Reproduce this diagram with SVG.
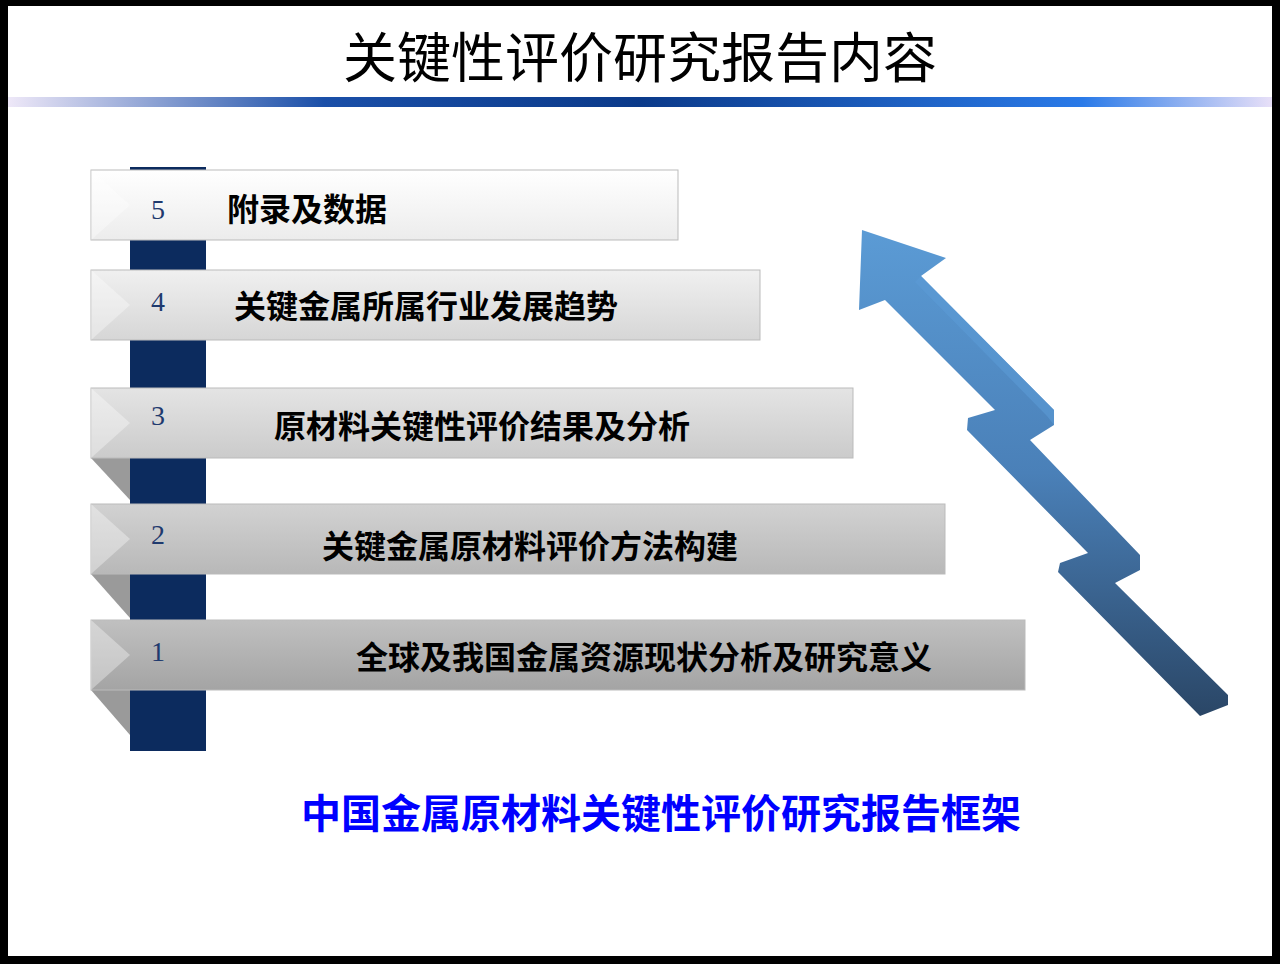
<svg xmlns="http://www.w3.org/2000/svg" width="1280" height="964" viewBox="0 0 1280 964">
<defs>
<linearGradient id="line" x1="0" y1="0" x2="1" y2="0">
<stop offset="0" stop-color="#eee8f8"/><stop offset="0.25" stop-color="#1a4fa8"/><stop offset="0.5" stop-color="#0b3a8a"/><stop offset="0.85" stop-color="#2a7ae8"/><stop offset="1" stop-color="#e8e0f8"/>
</linearGradient>
<linearGradient id="b5" x1="0" y1="0" x2="0" y2="1"><stop offset="0" stop-color="#ffffff"/><stop offset="1" stop-color="#ececec"/></linearGradient>
<linearGradient id="b4" x1="0" y1="0" x2="0" y2="1"><stop offset="0" stop-color="#f0f0f0"/><stop offset="1" stop-color="#d6d6d6"/></linearGradient>
<linearGradient id="b3" x1="0" y1="0" x2="0" y2="1"><stop offset="0" stop-color="#e4e4e4"/><stop offset="1" stop-color="#cbcbcb"/></linearGradient>
<linearGradient id="b2" x1="0" y1="0" x2="0" y2="1"><stop offset="0" stop-color="#d2d2d2"/><stop offset="1" stop-color="#b8b8b8"/></linearGradient>
<linearGradient id="b1" x1="0" y1="0" x2="0" y2="1"><stop offset="0" stop-color="#c0c0c0"/><stop offset="1" stop-color="#a4a4a4"/></linearGradient>
<linearGradient id="arr" x1="0" y1="0" x2="0" y2="1"><stop offset="0" stop-color="#5b9bd5"/><stop offset="0.5" stop-color="#4a80b8"/><stop offset="1" stop-color="#2a4666"/></linearGradient>
<style>
.bar{stroke:#bbbbbb;stroke-width:1}
.num{font-family:"Liberation Serif",serif;font-size:28px;fill:#1f3a6e}
.lab{font-family:"Noto Sans CJK SC",sans-serif;font-weight:bold;font-size:32px;fill:#000}
.fold{fill:#9a9a9a}
.bev{fill:#ffffff;opacity:0.35}
</style>
</defs>
<rect x="0" y="0" width="1280" height="964" fill="#000"/>
<rect x="8" y="6" width="1264" height="950" fill="#fff"/>
<text x="640" y="78" text-anchor="middle" font-family="Noto Sans CJK SC, sans-serif" font-size="54" fill="#000">关键性评价研究报告内容</text>
<rect x="8" y="97" width="1264" height="10" fill="url(#line)"/>
<rect x="130" y="167" width="76" height="584" fill="#0c2b5e"/>
<g id="folds">
<polygon class="fold" points="91,458 130,458 130,500" fill="#d8d8d8"/>
<polygon class="fold" points="91,574 130,574 130,618" fill="#c8c8c8"/>
<polygon class="fold" points="91,690 130,690 130,735" fill="#888"/>
</g>
<g id="n5"><rect class="bar" x="91" y="170" width="587" height="70" fill="url(#b5)"/><polygon class="bev" points="91,170 130,205 91,240"/><text class="num" x="158" y="219" text-anchor="middle">5</text><text class="lab" x="227" y="221">附录及数据</text></g>
<g id="n4"><rect class="bar" x="91" y="270" width="669" height="70" fill="url(#b4)"/><polygon class="bev" points="91,270 130,305 91,340"/><text class="num" x="158" y="311" text-anchor="middle">4</text><text class="lab" x="234" y="318">关键金属所属行业发展趋势</text></g>
<g id="n3"><rect class="bar" x="91" y="388" width="762" height="70" fill="url(#b3)"/><polygon class="bev" points="91,388 130,423 91,458"/><text class="num" x="158" y="425" text-anchor="middle">3</text><text class="lab" x="274" y="438">原材料关键性评价结果及分析</text></g>
<g id="n2"><rect class="bar" x="91" y="504" width="854" height="70" fill="url(#b2)"/><polygon class="bev" points="91,504 130,539 91,574"/><text class="num" x="158" y="544" text-anchor="middle">2</text><text class="lab" x="322" y="558">关键金属原材料评价方法构建</text></g>
<g id="n1"><rect class="bar" x="91" y="620" width="934" height="70" fill="url(#b1)"/><polygon class="bev" points="91,620 130,655 91,690"/><text class="num" x="158" y="661" text-anchor="middle">1</text><text class="lab" x="356" y="669">全球及我国金属资源现状分析及研究意义</text></g>
<g id="arrow">
<polygon fill="url(#arr)" points="862,230 946,258 921,276 1054,410 1054,425 1030,440 1140,555 1140,570 1115,583 1228,695 1228,705 1200,716 1058,572 1060,563 1088,553 967,430 968,418 995,410 885,300 859,310"/>
<polygon fill="#5b9bd5" opacity="0.6" points="921,276 1054,410 1054,425 1047,416 915,282"/>
</g>
<text x="661" y="828" text-anchor="middle" font-family="Noto Sans CJK SC, sans-serif" font-weight="bold" font-size="40" fill="#0000ff">中国金属原材料关键性评价研究报告框架</text>
</svg>
